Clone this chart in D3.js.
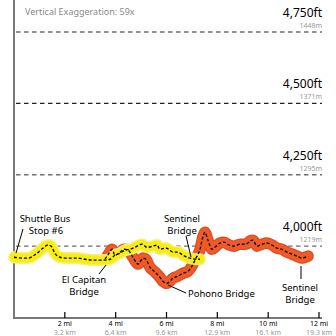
<!DOCTYPE html>
<html><head><meta charset="utf-8">
<script src="https://cdn.jsdelivr.net/npm/d3@7/dist/d3.min.js"></script>
<style>html,body{margin:0;padding:0;background:#fff;}svg{display:block;}</style>
</head><body><svg id="c" width="336" height="336"></svg>
<script>
const yellowMi = [0,0.31,0.55,0.90,1.14,1.34,1.46,1.61,1.81,2.12,2.48,2.79,3.11,3.46,3.78,3.97,4.17,4.37,4.56,4.76,5.04,5.23,5.47,5.63,5.74,5.98,6.26,6.45,6.65,6.92,7.16,7.32];
const yellowFt = [3961,3958,3958,3975,3993,4004,4000,3975,3961,3958,3958,3954,3951,3951,3954,3968,3975,3986,3989,3996,4007,3996,4000,4004,3989,3993,3979,3979,3968,3958,3954,3954];
const orangeMi = [3.58,3.74,3.86,3.97,4.13,4.33,4.49,4.68,4.88,5.08,5.19,5.35,5.55,5.74,5.86,6.02,6.26,6.45,6.65,6.85,7.00,7.16,7.32,7.44,7.51,7.63,7.79,7.95,8.11,8.26,8.46,8.66,8.90,9.13,9.29,9.40,9.56,9.76,9.95,10.15,10.35,10.54,10.74,10.94,11.13,11.33,11.45,11.57];
const orangeFt = [3954,3975,3989,3968,3975,3989,3986,3961,3937,3958,3954,3926,3909,3891,3877,3870,3888,3895,3905,3912,3930,3958,3989,4035,4049,4021,3989,4000,4011,4014,4004,4000,4007,4007,4018,4021,4000,4007,4011,4004,3993,3989,3979,3972,3965,3958,3961,3965];
const gridFt = [4750,4500,4250,4000];
const gridFtLabels = ["4,750ft","4,500ft","4,250ft","4,000ft"];
const gridMLabels = ["1448m","1371m","1295m","1219m"];
const tickMi = [2,4,6,8,10,12];
const tickMiLabels = ["2 mi","4 mi","6 mi","8 mi","10 mi","12 mi"];
const tickKmLabels = ["3.2 km","6.4 km","9.6 km","12.9 km","16.1 km","19.3 km"];
const titleText = "Vertical Exaggeration: 59x";

const FONT = "'Noto Sans', 'Open Sans', sans-serif";
const svg = d3.select("#c");
const x = d3.scaleLinear().domain([0,12]).range([14,319]);
const y = d3.scaleLinear().domain([3750,4750]).range([317.5,32]);

// title
svg.append("text").attr("x",25).attr("y",15).attr("font-family",FONT).attr("font-size",9)
  .attr("fill","#8a8a8a").text(titleText);

// gridlines
gridFt.forEach((f,i)=>{
  svg.append("line").attr("x1",16).attr("x2",322).attr("y1",y(f)).attr("y2",y(f))
    .attr("stroke", i===1 ? "#222" : "#6e6e6e").attr("stroke-width",1.4).attr("stroke-dasharray","4.5,3.5");
  svg.append("text").attr("x",322).attr("y",y(f)-15).attr("text-anchor","end")
    .attr("font-family",FONT).attr("font-size",12).attr("fill","#000").text(gridFtLabels[i]);
  svg.append("text").attr("x",322).attr("y",y(f)-4).attr("text-anchor","end")
    .attr("font-family",FONT).attr("font-size",7).attr("fill","#999").text(gridMLabels[i]);
});

// axes
const xAxis = d3.axisBottom(x).tickValues(tickMi).tickSize(0).tickFormat("");
const gx = svg.append("g").attr("transform","translate(0,318)").call(xAxis);
gx.select(".domain").remove();
svg.append("line").attr("x1",13).attr("x2",322).attr("y1",318).attr("y2",318).attr("stroke","#777").attr("stroke-width",2);
svg.append("line").attr("x1",14).attr("x2",14).attr("y1",0).attr("y2",319).attr("stroke","#777").attr("stroke-width",2);
tickMi.forEach((m,i)=>{
  svg.append("line").attr("x1",x(m)).attr("x2",x(m)).attr("y1",312).attr("y2",318).attr("stroke","#000").attr("stroke-width",1.2);
  svg.append("text").attr("x",x(m)).attr("y",325.5).attr("text-anchor","middle").attr("font-family",FONT)
    .attr("font-size",7).attr("fill","#000").text(tickMiLabels[i]);
  svg.append("text").attr("x",x(m)).attr("y",334.5).attr("text-anchor","middle").attr("font-family",FONT)
    .attr("font-size",7).attr("fill","#999").text(tickKmLabels[i]);
});

// routes
const line = d3.line().x(d=>x(d[0])).y(d=>y(d[1])).curve(d3.curveMonotoneX);
const yellow = yellowMi.map((m,i)=>[m,yellowFt[i]]);
const orange = orangeMi.map((m,i)=>[m,orangeFt[i]]);
function route(data, edge, edgeW, col, colW){
  svg.append("path").attr("d",line(data)).attr("fill","none").attr("stroke",edge).attr("stroke-width",edgeW)
    .attr("stroke-linejoin","round").attr("stroke-linecap","round");
  svg.append("path").attr("d",line(data)).attr("fill","none").attr("stroke",col).attr("stroke-width",colW)
    .attr("stroke-linejoin","round").attr("stroke-linecap","round");
}
route(orange, "#e04a22", 11.5, "#f05a28", 9);
route(yellow, "#f6f17e", 12, "#f7ec13", 9);
[orange, yellow].forEach(d=>{
  svg.append("path").attr("d",line(d)).attr("fill","none").attr("stroke","#000").attr("stroke-width",1.3)
    .attr("stroke-dasharray","3,2").attr("stroke-linejoin","round");
});

// annotations
function label(lines, xx, yy, anchor){
  lines.forEach((t,i)=>{
    svg.append("text").attr("x",xx).attr("y",yy+i*12).attr("text-anchor",anchor||"middle")
      .attr("font-family",FONT).attr("font-size",9.5).attr("fill","#000").text(t);
  });
}
function leader(x1,y1,x2,y2){
  svg.append("line").attr("x1",x1).attr("y1",y1).attr("x2",x2).attr("y2",y2).attr("stroke","#000").attr("stroke-width",1);
}
label(["Shuttle Bus"],45,222);
label(["Stop #6"],46,234);
leader(23,229,16,253);
label(["Sentinel","Bridge"],182,222);
leader(186,236,191,257);
label(["El Capitan","Bridge"],84,283);
leader(106,265,99,274);
label(["Pohono Bridge"],188,297,"start");
leader(168,285,186,293);
label(["Sentinel","Bridge"],300,291);
leader(301,266,301,279);
</script></body></html>
